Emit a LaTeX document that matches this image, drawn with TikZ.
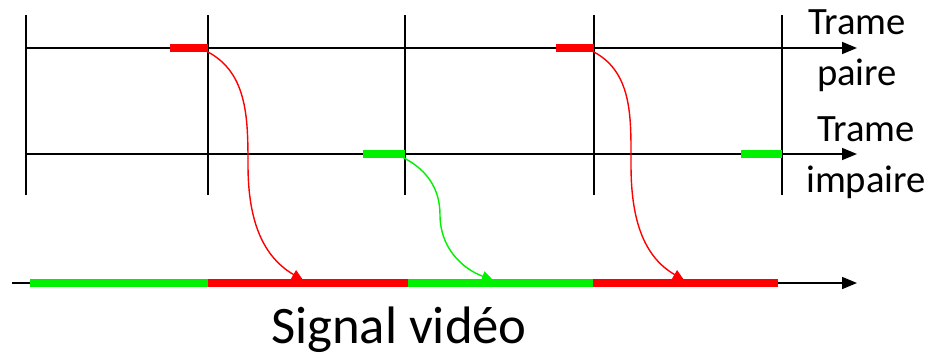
\documentclass[tikz,border=0pt]{standalone}
\usepackage{fontspec}
\setmainfont{Carlito}
\usepackage{tikz}
\usetikzlibrary{arrows.meta, calc}
\definecolor{oddgreen}{RGB}{0,240,0}
\definecolor{evenred}{RGB}{255,0,0}

\begin{document}
\begin{tikzpicture}[
        x=0.02cm, y=-0.02cm,
        axis/.style={line width=0.9pt, -{Triangle[length=0.3cm, width=0.24cm]}},
        tick/.style={line width=0.9pt},
        seg/.style={line width=0.16cm},
        link/.style={line width=0.8pt, -{Triangle[length=0.22cm, width=0.2cm]}},
        lbl/.style={font=\fontsize{22}{28.5}\selectfont, align=center, inner sep=0pt, anchor=base},
        big/.style={font=\fontsize{30}{36}\selectfont, inner sep=0pt, anchor=base}
    ]
    \useasboundingbox (0,0) rectangle (932,355);

    % time marks
    \foreach \x in {26,208,405,594,782}
        \draw[tick] (\x,15) -- (\x,195);

    % axes
    \coordinate (pairs) at (26,48);
    \coordinate (paire) at (857,48);
    \coordinate (imps) at (26,154);
    \coordinate (impe) at (857,154);
    \coordinate (sigs) at (12,283);
    \coordinate (sige) at (857,283);
    \draw[axis] (pairs) -- (paire);
    \draw[axis] (imps) -- (impe);
    \draw[axis] (sigs) -- (sige);

    % line ends of each field
    \draw[seg, evenred] (170,48) -- (208,48);
    \draw[seg, evenred] (556,48) -- (594,48);
    \draw[seg, oddgreen] (363,154) -- (405,154);
    \draw[seg, oddgreen] (741,154) -- (782,154);

    % video signal
    \draw[seg, oddgreen] (30,283) -- (208,283);
    \draw[seg, evenred] (208,283) -- (408,283);
    \draw[seg, oddgreen] (408,283) -- (593,283);
    \draw[seg, evenred] (593,283) -- (778,283);

    % transfers
    \coordinate (r1s) at (204,50);
    \coordinate (r1m) at (248,165);
    \coordinate (r1e) at (303,280);
    \coordinate (g1s) at (400,156);
    \coordinate (g1m) at (440,215);
    \coordinate (g1e) at (493,280);
    \coordinate (r2s) at (590,50);
    \coordinate (r2m) at (631,165);
    \coordinate (r2e) at (684,280);
    \draw[link, evenred] (r1s) to[out=-25, in=90] (r1m) to[out=-90, in=150] (r1e);
    \draw[link, oddgreen] (g1s) to[out=-25, in=90] (g1m) to[out=-90, in=160] (g1e);
    \draw[link, evenred] (r2s) to[out=-25, in=90] (r2m) to[out=-90, in=150] (r2e);

    \node[lbl] (tpaire) at (857,85) {Trame\\paire};
    \node[lbl] (timpaire) at (866,192) {Trame\\impaire};
    \node[big] (signal) at (399,343) {Signal vidéo};

    \end{tikzpicture}
\end{document}
